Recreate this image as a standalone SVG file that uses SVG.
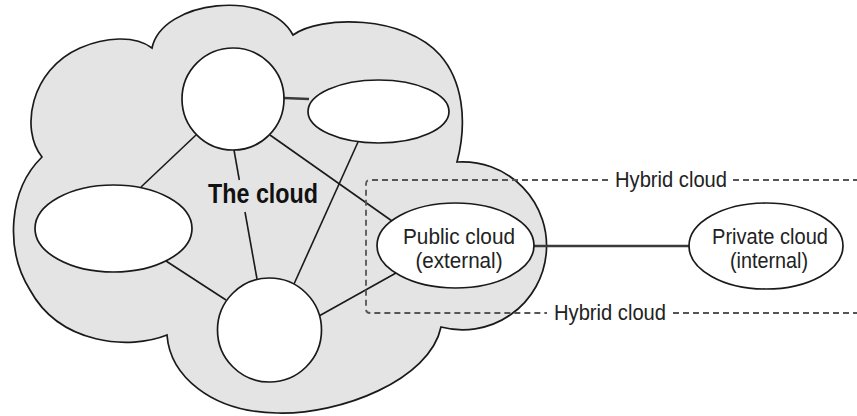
<svg xmlns="http://www.w3.org/2000/svg" width="857" height="416" viewBox="0 0 857 416">
<style>
.node{fill:#ffffff;stroke:#1a1a1a;stroke-width:1.7}
.conn{stroke:#1a1a1a;stroke-width:1.6;fill:none}
.thick{stroke:#3a3a3a;stroke-width:2.4}
.dash{stroke:#555;stroke-width:1.8;fill:none;stroke-dasharray:6 4}
.lbl{font-family:"Liberation Sans",Arial,sans-serif;font-size:22px;fill:#222}
.title{font-family:"Liberation Sans",Arial,sans-serif;font-size:27px;font-weight:bold;fill:#111}
</style>
<rect width="857" height="416" fill="#ffffff"/>
<g id="cloud">
<path d="M152,48 C162,0 268,-12 293,35 C320,15 405,15 440,55 C462,80 468,120 457,162 A84,84 0 1 1 441,327 C430,380 340,415 277,413 C210,412 170,375 167,335 C130,350 60,345 30,290 C5,250 8,190 42,157 C20,130 30,70 80,48 C105,37 135,35 152,48 Z" fill="#e4e4e4" stroke="#1a1a1a" stroke-width="1.7"/>
</g>
<g id="connectors">
<line class="conn thick" x1="284" y1="98" x2="309" y2="99"/>
<line class="conn" x1="196" y1="135" x2="141" y2="187"/>
<line class="conn" x1="234" y1="150" x2="239.3" y2="180"/>
<line class="conn" x1="245" y1="212" x2="257" y2="279"/>
<line class="conn" x1="270" y1="135" x2="392" y2="221"/>
<line class="conn" x1="358" y1="142" x2="294" y2="284"/>
<line class="conn" x1="166" y1="261" x2="226" y2="300"/>
<line class="conn" x1="319" y1="316" x2="396" y2="273"/>
<line class="conn thick" x1="534" y1="246" x2="689" y2="246"/>
</g>
<g id="node-top-circle"><circle class="node" cx="233" cy="99" r="51"/></g>
<g id="node-top-right-ellipse"><ellipse class="node" cx="378.5" cy="111.5" rx="70.5" ry="31.5"/></g>
<g id="node-left-ellipse"><ellipse class="node" cx="113.5" cy="228.5" rx="78.5" ry="43.5"/></g>
<g id="node-bottom-circle"><circle class="node" cx="269.5" cy="330" r="52"/></g>
<g id="node-public-cloud">
<ellipse class="node" cx="455.5" cy="245.5" rx="78.5" ry="42.5"/>
<text class="lbl" x="459" y="244" text-anchor="middle" textLength="112" lengthAdjust="spacingAndGlyphs">Public cloud</text>
<text class="lbl" x="459" y="268" text-anchor="middle" textLength="87" lengthAdjust="spacingAndGlyphs">(external)</text>
</g>
<g id="node-private-cloud">
<ellipse class="node" cx="766" cy="246" rx="77" ry="43"/>
<text class="lbl" x="770" y="244" text-anchor="middle" textLength="116" lengthAdjust="spacingAndGlyphs">Private cloud</text>
<text class="lbl" x="769" y="268" text-anchor="middle" textLength="78" lengthAdjust="spacingAndGlyphs">(internal)</text>
</g>
<g id="hybrid-boundary">
<path class="dash" d="M608,180 L370,180 Q366,180 366,184 L366,309 Q366,313 370,313 L547,313"/>
<line class="dash" x1="733" y1="180" x2="857" y2="180"/>
<line class="dash" x1="673" y1="313" x2="857" y2="313"/>
<text class="lbl" x="671" y="187" text-anchor="middle" textLength="112" lengthAdjust="spacingAndGlyphs">Hybrid cloud</text>
<text class="lbl" x="610" y="320" text-anchor="middle" textLength="112" lengthAdjust="spacingAndGlyphs">Hybrid cloud</text>
</g>
<g id="label-the-cloud">
<text class="title" x="208" y="203" textLength="110" lengthAdjust="spacingAndGlyphs">The cloud</text>
</g>
</svg>
